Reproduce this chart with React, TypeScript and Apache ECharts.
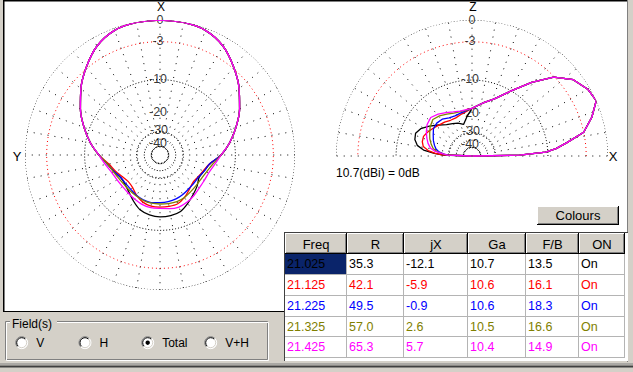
import React, { useEffect, useRef } from 'react';
import * as echarts from 'echarts';

// ---------------- data ----------------
const FREQUENCIES = [21.025, 21.125, 21.225, 21.325, 21.425];
const R_VALUES = [35.3, 42.1, 49.5, 57.0, 65.3];
const JX_VALUES = [-12.1, -5.9, -0.9, 2.6, 5.7];
const GA_VALUES = [10.7, 10.6, 10.6, 10.5, 10.4];
const FB_VALUES = [13.5, 16.1, 18.3, 16.6, 14.9];
const ON_VALUES = ['On', 'On', 'On', 'On', 'On'];
const TABLE_HEADERS = ['Freq', 'R', 'jX', 'Ga', 'F/B', 'ON'];
const SERIES_COLORS = ['#000000', '#ff0000', '#0000ff', '#808000', '#ff00ff'];

// azimuth pattern (dB, 0 dB = max gain), angle 0 = X direction, 90 = Y direction
const AZ_ANGLES = [0, 10, 20, 30, 40, 50, 60, 70, 80, 90, 100, 110, 120, 130, 140, 150, 160, 170, 180,
  190, 200, 210, 220, 230, 240, 250, 260, 270, 280, 290, 300, 310, 320, 330, 340, 350, 360];
const AZ_DB_21025 = [0, -0.05, -0.3, -1.2, -2.8, -4.6, -6.6, -8.8, -11.1, -13.6, -16.0, -17.5, -18.7, -18.6, -17.6, -16.0, -14.4, -13.7, -13.4,
  -13.5, -13.9, -15.2, -16.5, -17.6, -18.8, -18.2, -16.8, -13.6, -11.1, -8.8, -6.6, -4.6, -2.8, -1.2, -0.3, -0.05, 0];
const AZ_DB_21125 = [0, -0.05, -0.3, -1.2, -2.8, -4.6, -6.6, -8.8, -11.1, -13.6, -16.4, -18.0, -19.5, -20.3, -19.8, -18.2, -17.0, -16.4, -16.3,
  -16.3, -16.4, -17.4, -18.7, -19.7, -19.3, -18.4, -16.9, -13.6, -11.1, -8.8, -6.6, -4.6, -2.8, -1.2, -0.3, -0.05, 0];
const AZ_DB_21225 = [0, -0.05, -0.3, -1.2, -2.8, -4.6, -6.6, -8.8, -11.1, -13.6, -15.9, -17.5, -18.8, -19.0, -18.8, -18.2, -17.8, -17.6, -17.9,
  -18.0, -18.2, -18.6, -19.1, -19.2, -19.1, -18.1, -16.9, -13.6, -11.1, -8.8, -6.6, -4.6, -2.8, -1.2, -0.3, -0.05, 0];
const AZ_DB_21325 = [0, -0.05, -0.3, -1.2, -2.8, -4.6, -6.6, -8.8, -11.1, -13.6, -16.0, -17.2, -18.0, -18.3, -18.2, -18.0, -17.6, -17.4, -17.4,
  -17.3, -17.2, -17.4, -17.8, -18.0, -17.9, -17.2, -15.9, -13.6, -11.1, -8.8, -6.6, -4.6, -2.8, -1.2, -0.3, -0.05, 0];
const AZ_DB_21425 = [0, -0.05, -0.3, -1.2, -2.8, -4.6, -6.6, -8.8, -11.1, -13.6, -15.3, -16.6, -17.2, -17.4, -17.2, -16.8, -16.2, -15.9, -15.9,
  -15.6, -15.3, -15.6, -16.1, -16.6, -16.7, -16.4, -15.3, -13.6, -11.1, -8.8, -6.6, -4.6, -2.8, -1.2, -0.3, -0.05, 0];

// elevation pattern (dB), angle 0 = X horizon, 90 = zenith (Z), 180 = back horizon
const EL_ANGLES = [0, 1, 3, 5, 8, 12, 18, 24, 30, 37, 44, 51, 59, 69, 77, 83, 90,
  97, 105, 113, 121, 129, 137, 145, 152, 158, 164, 169, 173, 176, 178, 180];
const EL_DB_21025 = [-99, -18, -10.5, -8.2, -6.0, -3.0, -1.3, 0, -0.3, -1.2, -3.1, -6.2, -10.0, -13.8, -15.5, -16.8, -18.0,
  -21.0, -24.5, -23.0, -22.0, -20.8, -18.8, -16.5, -14.6, -13.8, -14.2, -15.3, -17.6, -22.0, -26.7, -99];
const EL_DB_21125 = [-99, -18, -10.5, -8.2, -6.0, -3.0, -1.3, 0, -0.3, -1.2, -3.1, -6.2, -10.0, -13.8, -15.5, -16.8, -18.0,
  -19.0, -19.8, -20.4, -20.3, -19.5, -18.9, -17.9, -17.0, -16.4, -16.6, -17.3, -19.3, -22.5, -26.0, -99];
const EL_DB_21225 = [-99, -18, -10.5, -8.2, -6.0, -3.0, -1.3, 0, -0.3, -1.2, -3.1, -6.2, -10.0, -13.8, -15.5, -16.8, -18.0,
  -18.7, -19.2, -19.5, -19.2, -18.1, -17.8, -18.2, -19.4, -20.3, -21.4, -22.5, -24.2, -27.0, -29.5, -99];
const EL_DB_21325 = [-99, -18, -10.5, -8.2, -6.0, -3.0, -1.3, 0, -0.3, -1.2, -3.1, -6.2, -10.0, -13.8, -15.5, -16.8, -18.0,
  -18.5, -18.6, -18.4, -17.6, -16.6, -16.0, -16.8, -17.9, -18.8, -20.0, -21.2, -23.3, -26.5, -29.0, -99];
const EL_DB_21425 = [-99, -18, -10.5, -8.2, -6.0, -3.0, -1.3, 0, -0.3, -1.2, -3.1, -6.2, -10.0, -13.8, -15.5, -16.8, -18.0,
  -18.3, -18.4, -17.9, -17.0, -15.9, -15.1, -15.6, -16.6, -17.6, -18.7, -20.0, -22.3, -26.6, -29.5, -99];

const AZ_SERIES = [AZ_DB_21025, AZ_DB_21125, AZ_DB_21225, AZ_DB_21325, AZ_DB_21425];
const EL_SERIES = [EL_DB_21025, EL_DB_21125, EL_DB_21225, EL_DB_21325, EL_DB_21425];

// grid
const RING_DB = [0, -3, -10, -30, -48];
const RING_IS_RED = [false, true, false, false, false];
const SCALE_LABELS = [0, -3, -10, -20, -30, -40];
const SPOKES_AZ = [0, 10, 20, 30, 40, 50, 60, 70, 80, 90, 100, 110, 120, 130, 140, 150, 160, 170,
  180, 190, 200, 210, 220, 230, 240, 250, 260, 270, 280, 290, 300, 310, 320, 330, 340, 350];
const SPOKES_EL = [0, 10, 20, 30, 40, 50, 60, 70, 80, 90, 100, 110, 120, 130, 140, 150, 160, 170, 180];
const FIELD_OPTIONS = ['V', 'H', 'Total', 'V+H'];
const FIELD_SELECTED = 'Total';
const GAIN_NOTE = '10.7(dBi) = 0dB';
const BUTTON_TEXT = 'Colours';

// ARRL log-periodic polar scale: each 2 dB step scales the radius by 0.89
const arrl = (db: number) => Math.pow(0.89, -db / 2);

const FONT = '"Liberation Sans", Arial, Helvetica, sans-serif';
const GREY = '#d4d0c8';

function text(t: string, x: number, y: number, size: number, fill: string, align = 'left', z = 20) {
  return {
    type: 'text',
    z,
    silent: true,
    style: {
      text: t, x, y, fill,
      font: `${size}px ${FONT}`,
      align, verticalAlign: 'middle',
      textAlign: align, textVerticalAlign: 'middle',
    },
  };
}
function rect(x: number, y: number, w: number, h: number, fill: string, z = 10) {
  return { type: 'rect', z, silent: true, shape: { x, y, width: w, height: h }, style: { fill } };
}

function labelOffset(db: number) {
  if (db === 0) return [0, 0];
  if (db === -30) return [-1, -1.5];
  if (db === -40) return [-2, 1];
  return [-2, -1];
}

function buildOption() {
  const series: any[] = [];

  const polars = [
    { idx: 0, top: 0, ringAngles: Array.from({ length: 181 }, (_, i) => i * 2), spokes: SPOKES_AZ },
    { idx: 1, top: 90, ringAngles: Array.from({ length: 91 }, (_, i) => i * 2), spokes: SPOKES_EL },
  ];

  polars.forEach((p) => {
    RING_DB.forEach((db, i) => {
      series.push({
        type: 'line', coordinateSystem: 'polar', polarIndex: p.idx, silent: true, z: 1,
        symbol: 'none', animation: false,
        data: p.ringAngles.map((a) => [arrl(db), a]),
        lineStyle: { color: RING_IS_RED[i] ? '#ff0000' : '#000000', width: 1, type: RING_IS_RED[i] ? [1, 3] : [1, 2], cap: 'butt' },
      });
    });
    p.spokes.forEach((a) => {
      series.push({
        type: 'line', coordinateSystem: 'polar', polarIndex: p.idx, silent: true, z: 1,
        symbol: 'none', animation: false,
        data: [[arrl(RING_DB[RING_DB.length - 1]), a], [1, a]],
        lineStyle: { color: '#000000', width: 1, type: [1, 6], cap: 'butt' },
      });
    });
    series.push({
      type: 'scatter', coordinateSystem: 'polar', polarIndex: p.idx, silent: true, z: 2,
      symbolSize: 1, itemStyle: { color: 'rgba(0,0,0,0)' }, animation: false,
      data: SCALE_LABELS.map((db) => ({
        value: [arrl(db), p.top],
        label: {
          show: true, position: 'inside', formatter: String(db),
          offset: labelOffset(db),
          color: '#000000', fontSize: 12.5, lineHeight: 10, fontFamily: FONT,
        },
      })),
    });
  });

  AZ_SERIES.forEach((arr, k) => {
    series.push({
      name: `az ${FREQUENCIES[k].toFixed(3)}`,
      type: 'line', coordinateSystem: 'polar', polarIndex: 0, z: 3, symbol: 'none', animation: false,
      smooth: 0.3,
      data: AZ_ANGLES.map((a, i) => [arrl(arr[i]), a]),
      lineStyle: { color: SERIES_COLORS[k], width: 1.3 },
    });
  });
  EL_SERIES.forEach((arr, k) => {
    series.push({
      name: `el ${FREQUENCIES[k].toFixed(3)}`,
      type: 'line', coordinateSystem: 'polar', polarIndex: 1, z: 3, symbol: 'none', animation: false,
      data: EL_ANGLES.map((a, i) => [arrl(arr[i]), a]),
      lineStyle: { color: SERIES_COLORS[k], width: 1.3 },
    });
  });

  const g: any[] = [];
  g.push(rect(3, 0, 624, 312, '#ffffff', -10));
  g.push(rect(3, 0, 624, 1.5, '#000000', -9));
  g.push(rect(3, 0, 1.5, 312, '#000000', -9));
  g.push(rect(3, 311, 282, 1, '#000000', -9));
  g.push(rect(627, 0, 1, 362, '#808080', -9));

  g.push(text('X', 161, 6.5, 12, '#000', 'center', 0));
  g.push(text('Y', 17, 156, 13, '#000', 'center', 0));
  g.push(text('Z', 473, 6.5, 12, '#000', 'center', 0));
  g.push(text('X', 613, 156, 13, '#000', 'center', 0));
  g.push(text(GAIN_NOTE, 336, 173, 12, '#000', 'left', 0));

  const bx = 537, by = 206, bw = 82, bh = 19;
  g.push(rect(bx, by, bw, bh, '#000000'));
  g.push(rect(bx, by, bw - 1, bh - 1, '#ffffff'));
  g.push(rect(bx + 1, by + 1, bw - 2, bh - 2, '#808080'));
  g.push(rect(bx + 1, by + 1, bw - 3, bh - 3, GREY));
  g.push(text(BUTTON_TEXT, bx + bw / 2, by + bh / 2, 13, '#000', 'center'));

  const COL_X = [285, 347, 404, 468, 526, 579, 625];
  const ROW_Y = [254, 275, 296, 317, 337, 358];
  g.push(rect(284, 232, 344, 129, '#ffffff'));
  g.push(rect(284, 232, 1, 129, '#404040'));
  g.push(rect(284, 232, 344, 1, '#404040'));
  for (let c = 0; c < 6; c++) {
    const x0 = COL_X[c], x1 = COL_X[c + 1];
    g.push(rect(x0, 233, x1 - x0, 21, '#000000', 11));
    g.push(rect(x0, 233, x1 - x0 - 1, 20, '#ffffff', 11));
    g.push(rect(x0 + 1, 234, x1 - x0 - 2, 19, '#808080', 11));
    g.push(rect(x0 + 1, 234, x1 - x0 - 3, 18, GREY, 11));
    g.push(text(TABLE_HEADERS[c], (x0 + x1) / 2, 244, 13, '#000', 'center', 12));
  }
  for (let c = 1; c < 7; c++) g.push(rect(COL_X[c] - 1, 254, 1, 104, '#b4b4b4', 11));
  for (let r = 1; r < 6; r++) g.push(rect(285, ROW_Y[r] - 1, 340, 1, '#b4b4b4', 11));
  g.push(rect(285, 254, 61, 20, '#0a246a', 11));
  for (let r = 0; r < 5; r++) {
    const yc = (ROW_Y[r] + ROW_Y[r + 1]) / 2 - 0.5;
    const color = SERIES_COLORS[r];
    const cells = [
      FREQUENCIES[r].toFixed(3), R_VALUES[r].toFixed(1), JX_VALUES[r].toFixed(1),
      GA_VALUES[r].toFixed(1), FB_VALUES[r].toFixed(1), ON_VALUES[r],
    ];
    cells.forEach((s, c) => g.push(text(s, COL_X[c] + 2, yc, 12.5, color, 'left', 12)));
  }

  g.push({ type: 'rect', z: 10, silent: true, shape: { x: 5.5, y: 321.5, width: 262, height: 38 }, style: { fill: 'none', stroke: '#808080', lineWidth: 1 } });
  g.push({ type: 'rect', z: 10, silent: true, shape: { x: 6.5, y: 322.5, width: 262, height: 38 }, style: { fill: 'none', stroke: '#ffffff', lineWidth: 1 } });
  g.push(rect(10, 315, 47, 14, GREY, 11));
  g.push(text('Field(s)', 12, 323.5, 12, '#000', 'left', 12));
  const RADIO_X = [21.7, 85, 147.7, 210.7];
  const ry = 342.7;
  FIELD_OPTIONS.forEach((opt, i) => {
    const cx = RADIO_X[i];
    g.push({ type: 'circle', z: 11, silent: true, shape: { cx, cy: ry, r: 6 }, style: { fill: '#ffffff' } });
    g.push({ type: 'arc', z: 12, silent: true, shape: { cx, cy: ry, r: 6, startAngle: Math.PI * 0.75, endAngle: Math.PI * 1.75, clockwise: true }, style: { stroke: '#808080', lineWidth: 1, fill: 'none' } });
    g.push({ type: 'arc', z: 12, silent: true, shape: { cx, cy: ry, r: 5, startAngle: Math.PI * 0.75, endAngle: Math.PI * 1.75, clockwise: true }, style: { stroke: '#000000', lineWidth: 1, fill: 'none' } });
    g.push({ type: 'arc', z: 12, silent: true, shape: { cx, cy: ry, r: 6, startAngle: -Math.PI * 0.25, endAngle: Math.PI * 0.75, clockwise: true }, style: { stroke: '#ffffff', lineWidth: 1, fill: 'none' } });
    g.push({ type: 'arc', z: 12, silent: true, shape: { cx, cy: ry, r: 5, startAngle: -Math.PI * 0.25, endAngle: Math.PI * 0.75, clockwise: true }, style: { stroke: GREY, lineWidth: 1, fill: 'none' } });
    if (opt === FIELD_SELECTED) {
      g.push({ type: 'circle', z: 13, silent: true, shape: { cx, cy: ry, r: 2.2 }, style: { fill: '#000000' } });
    }
    g.push(text(opt, cx + 14.5, ry, 12, '#000', 'left', 12));
  });

  g.push(rect(0, 363.5, 633, 1, '#808080'));
  g.push(rect(0, 365.5, 633, 2, '#404040'));

  const hidden = { axisLine: { show: false }, splitLine: { show: false }, axisLabel: { show: false }, axisTick: { show: false } };
  return {
    animation: false,
    backgroundColor: GREY,
    polar: [
      { center: [160, 155], radius: 135 },
      { center: [472, 156], radius: 136 },
    ],
    angleAxis: [
      { polarIndex: 0, type: 'value', min: 0, max: 360, startAngle: 90, clockwise: false, show: false, ...hidden },
      { polarIndex: 1, type: 'value', min: 0, max: 360, startAngle: 0, clockwise: false, show: false, ...hidden },
    ],
    radiusAxis: [
      { polarIndex: 0, type: 'value', min: 0, max: 1, show: false, ...hidden },
      { polarIndex: 1, type: 'value', min: 0, max: 1, show: false, ...hidden },
    ],
    series,
    graphic: { elements: g },
  };
}

export default function App() {
  const ref = useRef<HTMLDivElement>(null);
  useEffect(() => {
    if (!ref.current) return;
    const chart = echarts.init(ref.current, null, { renderer: 'svg', width: 633, height: 372 });
    chart.setOption(buildOption() as any);
    return () => chart.dispose();
  }, []);
  return <div ref={ref} style={{ position: 'fixed', left: 0, top: 0, width: 633, height: 372 }} />;
}
